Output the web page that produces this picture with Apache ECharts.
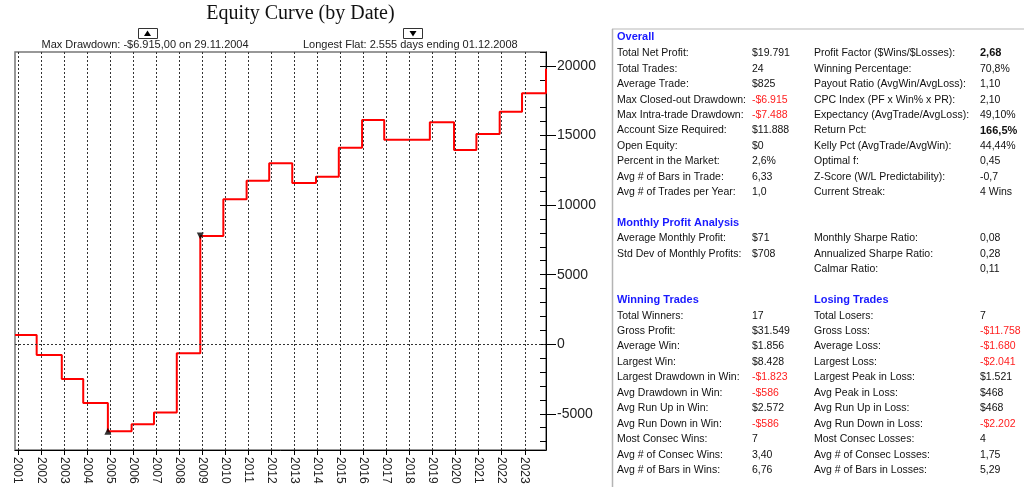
<!DOCTYPE html>
<html>
<head>
<meta charset="utf-8">
<script src="https://cdn.jsdelivr.net/npm/echarts@6/dist/echarts.min.js"></script>
<style>html,body{margin:0;padding:0;background:#fff;}#main{width:1024px;height:491px;}</style>
</head>
<body>
<div id="main"></div>
<script>
// ---- data ----
const tradeDates = [2000.88, 2001.82, 2002.91, 2003.84, 2004.91, 2005.94, 2006.91, 2007.90, 2008.92, 2009.92, 2010.93, 2011.91, 2012.91, 2013.94, 2014.93, 2015.94, 2016.90, 2018.88, 2019.93, 2020.90, 2021.91, 2022.88, 2023.92];
const equity = [668, -770, -2490, -4220, -6250, -5750, -4910, -650, 7780, 10420, 11750, 13000, 11590, 12040, 14120, 16110, 14700, 15950, 13960, 15110, 16710, 18030, 19791];
const years = [2001, 2002, 2003, 2004, 2005, 2006, 2007, 2008, 2009, 2010, 2011, 2012, 2013, 2014, 2015, 2016, 2017, 2018, 2019, 2020, 2021, 2022, 2023];
const yMajorTicks = [-5000, 0, 5000, 10000, 15000, 20000];
const yMinorTicks = [-7000, -6000, -5000, -4000, -3000, -2000, -1000, 0, 1000, 2000, 3000, 4000, 5000, 6000, 7000, 8000, 9000, 10000, 11000, 12000, 13000, 14000, 15000, 16000, 17000, 18000, 19000, 20000, 21000];
const ddMarker = [2004.91, -6250];
const flatMarker = [2008.92, 7780];

const titleText = 'Equity Curve (by Date)';
const ddText = 'Max Drawdown: -$6.915,00 on 29.11.2004';
const flatText = 'Longest Flat: 2.555 days ending 01.12.2008';

const overallLabelsL = ['Total Net Profit:', 'Total Trades:', 'Average Trade:', 'Max Closed-out Drawdown:', 'Max Intra-trade Drawdown:', 'Account Size Required:', 'Open Equity:', 'Percent in the Market:', 'Avg # of Bars in Trade:', 'Avg # of Trades per Year:'];
const overallValuesL = ['$19.791', '24', '$825', '-$6.915', '-$7.488', '$11.888', '$0', '2,6%', '6,33', '1,0'];
const overallLabelsR = ['Profit Factor ($Wins/$Losses):', 'Winning Percentage:', 'Payout Ratio (AvgWin/AvgLoss):', 'CPC Index (PF x Win% x PR):', 'Expectancy (AvgTrade/AvgLoss):', 'Return Pct:', 'Kelly Pct (AvgTrade/AvgWin):', 'Optimal f:', 'Z-Score (W/L Predictability):', 'Current Streak:'];
const overallValuesR = ['2,68', '70,8%', '1,10', '2,10', '49,10%', '166,5%', '44,44%', '0,45', '-0,7', '4 Wins'];
const monthlyLabelsL = ['Average Monthly Profit:', 'Std Dev of Monthly Profits:'];
const monthlyValuesL = ['$71', '$708'];
const monthlyLabelsR = ['Monthly Sharpe Ratio:', 'Annualized Sharpe Ratio:', 'Calmar Ratio:'];
const monthlyValuesR = ['0,08', '0,28', '0,11'];
const winLabels = ['Total Winners:', 'Gross Profit:', 'Average Win:', 'Largest Win:', 'Largest Drawdown in Win:', 'Avg Drawdown in Win:', 'Avg Run Up in Win:', 'Avg Run Down in Win:', 'Most Consec Wins:', 'Avg # of Consec Wins:', 'Avg # of Bars in Wins:'];
const winValues = ['17', '$31.549', '$1.856', '$8.428', '-$1.823', '-$586', '$2.572', '-$586', '7', '3,40', '6,76'];
const lossLabels = ['Total Losers:', 'Gross Loss:', 'Average Loss:', 'Largest Loss:', 'Largest Peak in Loss:', 'Avg Peak in Loss:', 'Avg Run Up in Loss:', 'Avg Run Down in Loss:', 'Most Consec Losses:', 'Avg # of Consec Losses:', 'Avg # of Bars in Losses:'];
const lossValues = ['7', '-$11.758', '-$1.680', '-$2.041', '$1.521', '$468', '$468', '-$2.202', '4', '1,75', '5,29'];
const boldValues = ['2,68', '166,5%'];

// ---- build ----
const FF = '"Liberation Sans", Arial, sans-serif';
const series = tradeDates.map((d, i) => [d, equity[i]]);
const gridLine = { color: '#333', type: [2, 2], width: 1 };

const graphics = [];
function txt(x, y, text, font, fill, align) {
  graphics.push({
    type: 'text', x: x, y: y, silent: true,
    style: { text: text, font: font, fill: fill || '#111', align: align || 'left', textAlign: align || 'left', verticalAlign: 'middle', textVerticalAlign: 'middle' }
  });
}
const bodyFont = '10.5px ' + FF;
const headFont = 'bold 11px ' + FF;
function valueText(x, y, v) {
  const red = v.indexOf('-$') === 0;
  const bold = boldValues.indexOf(v) >= 0;
  txt(x, y, v, bold ? 'bold 11px ' + FF : bodyFont, red ? '#ff2020' : '#111');
}
const cLL = 617, cVL = 752, cLR = 814, cVR = 980, rowH = 15.45;

// title and header texts
txt(300.5, 14, titleText, '20px "Liberation Serif", "Times New Roman", serif', '#111', 'center');
txt(41.5, 45, ddText, '11px ' + FF, '#222');
txt(303, 45, flatText, '11px ' + FF, '#222');
// marker boxes
graphics.push({ type: 'rect', silent: true, shape: { x: 138.5, y: 28.5, width: 19, height: 10 }, style: { fill: '#fff', stroke: '#333', lineWidth: 1 } });
graphics.push({ type: 'polygon', silent: true, shape: { points: [[144, 36], [151, 36], [147.5, 30.5]] }, style: { fill: '#000' } });
graphics.push({ type: 'rect', silent: true, shape: { x: 403.5, y: 28.5, width: 19, height: 10 }, style: { fill: '#fff', stroke: '#333', lineWidth: 1 } });
graphics.push({ type: 'polygon', silent: true, shape: { points: [[409.5, 31], [416.5, 31], [413, 36.5]] }, style: { fill: '#000' } });
// panel borders
graphics.push({ type: 'line', silent: true, shape: { x1: 612, y1: 29, x2: 1024, y2: 29 }, style: { stroke: '#cfcfcf', lineWidth: 1.5 } });
graphics.push({ type: 'line', silent: true, shape: { x1: 612.5, y1: 29, x2: 612.5, y2: 487 }, style: { stroke: '#b4b4b4', lineWidth: 1.5 } });

// Overall
txt(cLL, 37.3, 'Overall', headFont, '#1a1aff');
overallLabelsL.forEach((l, i) => {
  const y = 53.3 + i * rowH;
  txt(cLL, y, l, bodyFont);
  valueText(cVL, y, overallValuesL[i]);
  txt(cLR, y, overallLabelsR[i], bodyFont);
  valueText(cVR, y, overallValuesR[i]);
});
// Monthly
txt(cLL, 223.3, 'Monthly Profit Analysis', headFont, '#1a1aff');
monthlyLabelsL.forEach((l, i) => {
  const y = 238.3 + i * rowH;
  txt(cLL, y, l, bodyFont);
  valueText(cVL, y, monthlyValuesL[i]);
});
monthlyLabelsR.forEach((l, i) => {
  const y = 238.3 + i * rowH;
  txt(cLR, y, l, bodyFont);
  valueText(cVR, y, monthlyValuesR[i]);
});
// Winning / Losing
txt(cLL, 300, 'Winning Trades', headFont, '#1a1aff');
txt(cLR, 300, 'Losing Trades', headFont, '#1a1aff');
winLabels.forEach((l, i) => {
  const y = 315.7 + i * rowH;
  txt(cLL, y, l, bodyFont);
  valueText(cVL, y, winValues[i]);
  txt(cLR, y, lossLabels[i], bodyFont);
  valueText(cVR, y, lossValues[i]);
});

const chart = echarts.init(document.getElementById('main'), null, { renderer: 'canvas' });
chart.setOption({
  animation: false,
  backgroundColor: '#fff',
  grid: { left: 15, right: 478, top: 52, bottom: 41, show: true, borderColor: '#777', borderWidth: 1.5, backgroundColor: 'transparent' },
  xAxis: {
    type: 'value', min: 2000.88, max: 2023.92,
    axisLine: { show: true, onZero: false, lineStyle: { color: '#000', width: 1 } },
    axisTick: { show: true, customValues: years, length: 5, lineStyle: { color: '#000' } },
    axisLabel: { customValues: years, rotate: -90, fontSize: 12, fontFamily: FF, color: '#222', margin: 7, formatter: v => String(v) },
    splitLine: { show: false }
  },
  yAxis: [{
    type: 'value', position: 'right', min: -7600, max: 21000,
    axisLine: { show: true, lineStyle: { color: '#000', width: 1 } },
    axisTick: { show: true, customValues: yMajorTicks, length: 10, lineStyle: { color: '#000' } },
    axisLabel: { customValues: yMajorTicks, margin: 11, fontSize: 14, fontFamily: FF, color: '#222', formatter: v => String(v) },
    splitLine: { show: false }
  }, {
    type: 'value', position: 'right', min: -7600, max: 21000,
    axisLine: { show: false },
    axisTick: { show: true, inside: true, customValues: yMinorTicks, length: 6, lineStyle: { color: '#000' } },
    axisLabel: { show: false },
    splitLine: { show: false }
  }],
  graphic: { elements: graphics },
  series: [{
    type: 'line', data: series, step: 'end', symbol: 'none', z: 1, silent: true,
    lineStyle: { opacity: 0 },
    markLine: {
      silent: true, symbol: ['none', 'none'], label: { show: false }, animation: false,
      lineStyle: gridLine,
      data: years.map(y => ({ xAxis: y })).concat([{ yAxis: 0 }])
    }
  }, {
    type: 'line', data: series, step: 'end', symbol: 'none', z: 3, silent: true,
    lineStyle: { color: '#ff0000', width: 2 }
  }, {
    type: 'scatter', data: [ddMarker], symbol: 'triangle', symbolSize: 7, z: 4, silent: true,
    itemStyle: { color: '#000' }
  }, {
    type: 'scatter', data: [flatMarker], symbol: 'triangle', symbolRotate: 180, symbolSize: 7, z: 4, silent: true,
    itemStyle: { color: '#000' }
  }]
});
</script>
</body>
</html>
